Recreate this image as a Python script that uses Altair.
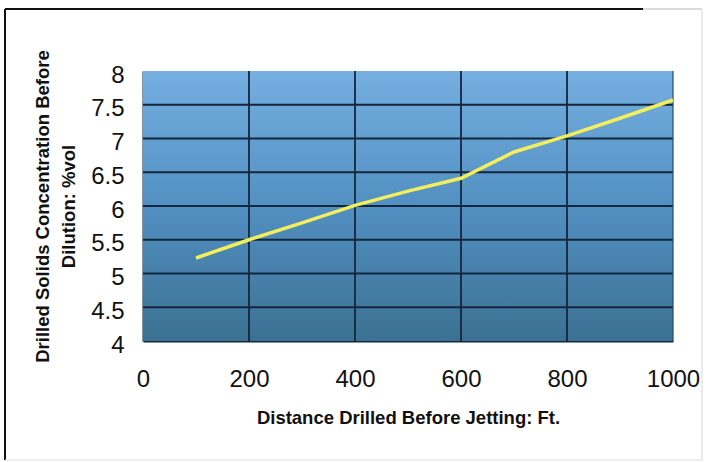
import altair as alt
import pandas as pd

# ---- data ----
distance_ft = [100, 200, 300, 400, 500, 600, 700, 800, 900, 1000]
solids_pct = [5.23, 5.50, 5.75, 6.01, 6.22, 6.41, 6.80, 7.04, 7.30, 7.57]

x_ticks = [0, 200, 400, 600, 800, 1000]
y_ticks = [4, 4.5, 5, 5.5, 6, 6.5, 7, 7.5, 8]
x_grid = [200, 400, 600, 800]
y_grid = [4.5, 5, 5.5, 6, 6.5, 7, 7.5]

x_title = "Distance Drilled Before Jetting: Ft."
y_title = ["Drilled Solids Concentration Before", "Dilution: %vol"]

FONT = "Liberation Sans"
GRID = "#13263b"

line_df = pd.DataFrame({"x": distance_ft, "y": solids_pct})
xg_df = pd.DataFrame({"x": x_grid})
yg_df = pd.DataFrame({"y": y_grid})
bg_df = pd.DataFrame({"x": [0], "x2": [1000], "y": [4], "y2": [8]})

xscale = alt.Scale(domain=[0, 1000], nice=False, zero=False)
yscale = alt.Scale(domain=[4, 8], nice=False, zero=False)

xaxis = alt.Axis(
    values=x_ticks, format="d", grid=False, ticks=False, tickSize=0,
    domain=True, domainColor=GRID, domainWidth=2,
    labelFont=FONT, labelFontSize=24, labelColor="#111111",
    labelBaseline="alphabetic", labelPadding=45,
    labelOverlap=False, labelFlush=False,
    title=x_title, titleFont=FONT, titleFontSize=18.5, titleFontWeight="bold",
    titleColor="#111111", titleBaseline="alphabetic", titleY=82,
)
yaxis = alt.Axis(
    values=y_ticks, format=".1~f", grid=False, ticks=False, tickSize=0,
    domain=True, domainColor=GRID, domainWidth=2,
    labelFont=FONT, labelFontSize=24, labelColor="#111111",
    labelBaseline="middle", labelOffset=4, labelPadding=19,
    labelOverlap=False, labelFlush=False,
    title=y_title, titleFont=FONT, titleFontSize=18.5, titleFontWeight="bold",
    titleColor="#111111", titleBaseline="bottom", titleX=-91, titleY=135,
    titleLineHeight=26,
)

gradient = alt.LinearGradient(
    gradient="linear",
    stops=[
        alt.GradientStop(offset=0, color="#76afe2"),
        alt.GradientStop(offset=0.5, color="#5290c2"),
        alt.GradientStop(offset=1, color="#3b7192"),
    ],
    x1=0, x2=0, y1=0, y2=1,
)

bg = alt.Chart(bg_df).mark_rect(color=gradient).encode(
    x=alt.X("x:Q", scale=xscale, axis=xaxis),
    x2="x2",
    y=alt.Y("y:Q", scale=yscale, axis=yaxis),
    y2="y2",
)

vgrid = alt.Chart(xg_df).mark_rule(color=GRID, strokeWidth=1.8).encode(
    x=alt.X("x:Q", scale=xscale, axis=xaxis)
)
hgrid = alt.Chart(yg_df).mark_rule(color=GRID, strokeWidth=2).encode(
    y=alt.Y("y:Q", scale=yscale, axis=yaxis)
)
right_edge = alt.Chart(pd.DataFrame({"x": [1000]})).mark_rule(
    color="#27486a", strokeWidth=1.2
).encode(x=alt.X("x:Q", scale=xscale, axis=xaxis))

line = alt.Chart(line_df).mark_line(color="#f2ee5c", strokeWidth=3.5).encode(
    x=alt.X("x:Q", scale=xscale, axis=xaxis),
    y=alt.Y("y:Q", scale=yscale, axis=yaxis),
)

# outer frame of the scanned figure
frame_top = alt.Chart(bg_df).mark_rule(color="#111111", strokeWidth=2).encode(
    x=alt.value(-138), x2=alt.value(500), y=alt.value(-62)
)
frame_top2 = alt.Chart(bg_df).mark_rule(color="#cfcfcf", strokeWidth=1.5).encode(
    x=alt.value(500), x2=alt.value(559), y=alt.value(-62)
)
frame_left = alt.Chart(bg_df).mark_rule(color="#111111", strokeWidth=2).encode(
    x=alt.value(-138), y=alt.value(-62), y2=alt.value(389)
)
frame_right = alt.Chart(bg_df).mark_rule(color="#dddddd", strokeWidth=1.2).encode(
    x=alt.value(559), y=alt.value(-62), y2=alt.value(389)
)
frame_bottom = alt.Chart(bg_df).mark_rule(color="#dddddd", strokeWidth=1.2).encode(
    x=alt.value(-138), x2=alt.value(559), y=alt.value(389)
)

chart = alt.layer(
    bg, vgrid, hgrid, right_edge, line,
    frame_top, frame_top2, frame_left, frame_right, frame_bottom,
).properties(
    width=530, height=270,
    autosize=alt.AutoSizeParams(type="none"),
    padding={"left": 143, "top": 71, "right": 33, "bottom": 121},
    background="white",
).configure_view(stroke=None)

chart.save("out.html", embed_options={"renderer": "svg", "actions": False})
